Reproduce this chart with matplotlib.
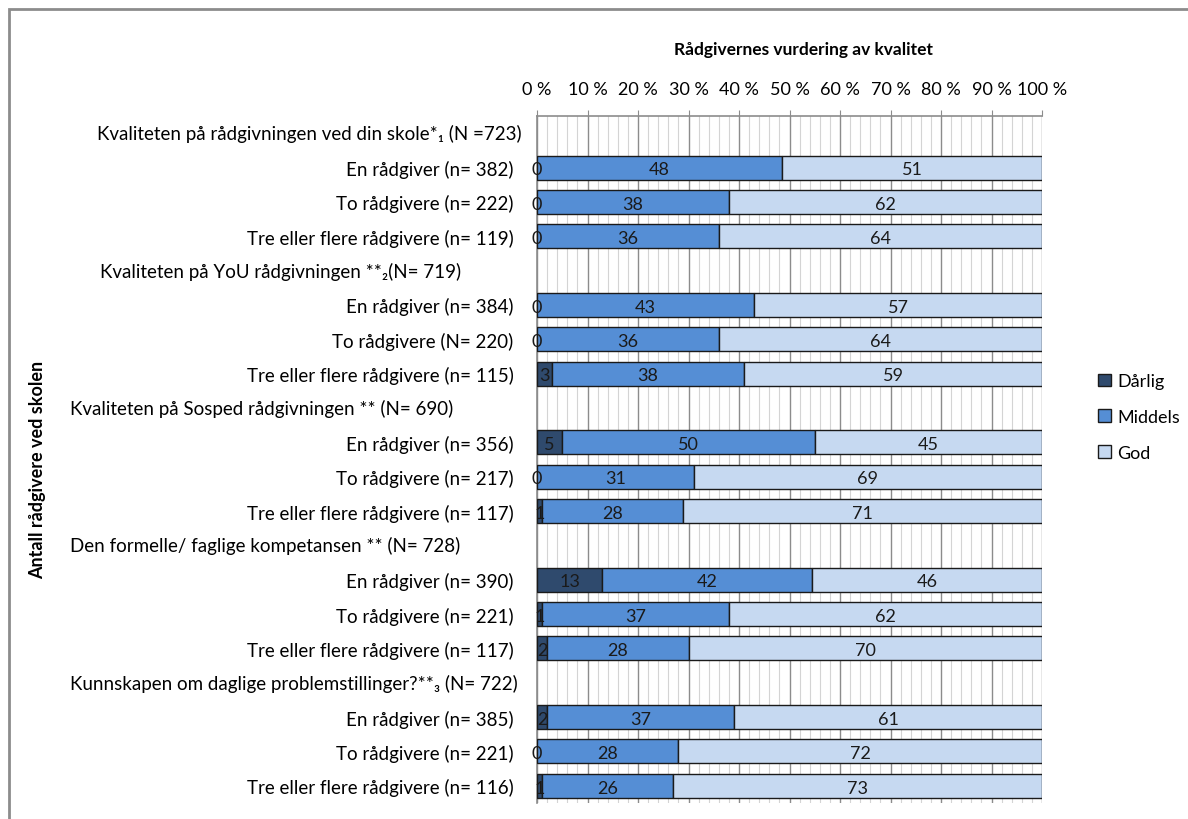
import matplotlib.pyplot as plt
from matplotlib.patches import Rectangle
from matplotlib.ticker import MultipleLocator, FuncFormatter

plt.rcParams['font.family'] = ['Lato', 'DejaVu Sans']

# --------------------------
# Data
# --------------------------
group_titles = [
    "Kvaliteten på rådgivningen ved din skole*₁ (N =723)",
    "Kvaliteten på YoU rådgivningen **₂(N= 719)",
    "Kvaliteten på Sosped rådgivningen ** (N= 690)",
    "Den formelle/ faglige kompetansen ** (N= 728)",
    "Kunnskapen om daglige problemstillinger?**₃ (N= 722)",
]
group_title_x = [97, 100, 70, 70, 70]  # left edge of header text, pixels

row_labels = [
    ["En rådgiver (n= 382)", "To rådgivere (n= 222)", "Tre eller flere rådgivere (n= 119)"],
    ["En rådgiver (n= 384)", "To rådgivere (N= 220)", "Tre eller flere rådgivere (n= 115)"],
    ["En rådgiver (n= 356)", "To rådgivere (n= 217)", "Tre eller flere rådgivere (n= 117)"],
    ["En rådgiver (n= 390)", "To rådgivere (n= 221)", "Tre eller flere rådgivere (n= 117)"],
    ["En rådgiver (n= 385)", "To rådgivere (n= 221)", "Tre eller flere rådgivere (n= 116)"],
]

darlig = [[0, 0, 0], [0, 0, 3], [5, 0, 1], [13, 1, 2], [2, 0, 1]]
middels = [[48, 38, 36], [43, 36, 38], [50, 31, 28], [42, 37, 28], [37, 28, 26]]
god = [[51, 62, 64], [57, 64, 59], [45, 69, 71], [46, 62, 70], [61, 72, 73]]

series_names = ["Dårlig", "Middels", "God"]
colors = ["#2F4A6D", "#558ED5", "#C6D9F1"]

# --------------------------
# Figure
# --------------------------
W, H = 1188, 820
fig = plt.figure(figsize=(W / 100, H / 100), dpi=100)
ax = fig.add_axes([537 / W, 1 - 804 / H, (1042 - 537) / W, (804 - 117) / H])

n_rows = len(group_titles) * 4
ticks, tick_labels = [], []
header_rows = []

for g in range(len(group_titles)):
    header_rows.append(g * 4)
    for r in range(3):
        y = g * 4 + r + 1
        vals = [darlig[g][r], middels[g][r], god[g][r]]
        total = sum(vals)
        left = 0
        for k, v in enumerate(vals):
            w = v / total * 100
            ax.barh(y, w, left=left, height=0.7, color=colors[k],
                    edgecolor="#1a1a1a", linewidth=1, zorder=3)
            cx = left + w / 2 if v > 0 else left
            ax.text(cx, y + 0.05, str(v), ha="center", va="center",
                    fontsize=13, color="#1a1a1a", zorder=4)
            left += w
        ticks.append(y)
        tick_labels.append(row_labels[g][r])

ax.set_ylim(n_rows - 0.5, -0.5)
ax.set_xlim(0, 100)
ax.set_yticks(ticks)
ax.set_yticklabels(tick_labels, fontsize=13.5)
ax.tick_params(axis="y", length=0, pad=17)

# header rows as free text
y_to_fig = lambda y: (1 - 804 / H) + (n_rows - 0.5 - y) / n_rows * ((804 - 117) / H)
for g, hr in enumerate(header_rows):
    fig.text(group_title_x[g] / W, y_to_fig(hr), group_titles[g],
             ha="left", va="center", fontsize=13.5)

# x axis on top
ax.xaxis.tick_top()
ax.xaxis.set_major_locator(MultipleLocator(10))
ax.xaxis.set_minor_locator(MultipleLocator(2))
ax.xaxis.set_major_formatter(FuncFormatter(lambda v, p: "%d %%" % v))
ax.tick_params(axis="x", which="major", direction="out", length=4,
               color="#8c8c8c", labelsize=13, pad=10)
ax.tick_params(axis="x", which="minor", length=0)
ax.grid(axis="x", which="major", color="#8c8c8c", linewidth=1, zorder=0)
ax.grid(axis="x", which="minor", color="#d4d4d4", linewidth=0.8, zorder=0)
ax.set_axisbelow(True)

for s in ["right", "bottom"]:
    ax.spines[s].set_visible(False)
for s in ["top", "left"]:
    ax.spines[s].set_color("#8c8c8c")
    ax.spines[s].set_linewidth(1.2)

# titles
fig.text(804 / W, 1 - 50 / H, "Rådgivernes vurdering av kvalitet",
         ha="center", va="center", fontsize=12.5, fontweight="bold")
fig.text(38 / W, 1 - 470 / H, "Antall rådgivere ved skolen", rotation=90,
         ha="center", va="center", fontsize=13, fontweight="bold")

# legend
handles = [Rectangle((0, 0), 1, 1, facecolor=c, edgecolor="#1a1a1a", linewidth=1)
           for c in colors]
fig.legend(handles, series_names, loc="center left",
           bbox_to_anchor=(1082 / W, 1 - 418 / H), frameon=False,
           fontsize=13, handlelength=0.7, handleheight=0.7,
           handletextpad=0.35, labelspacing=1.1)

# outer chart frame
fig.patches.append(Rectangle((9 / W, -0.1), 1.2, 1 - 10 / H + 0.1,
                             transform=fig.transFigure, fill=False,
                             edgecolor="#8c8c8c", linewidth=2))

fig.savefig("out.png", dpi=100)
